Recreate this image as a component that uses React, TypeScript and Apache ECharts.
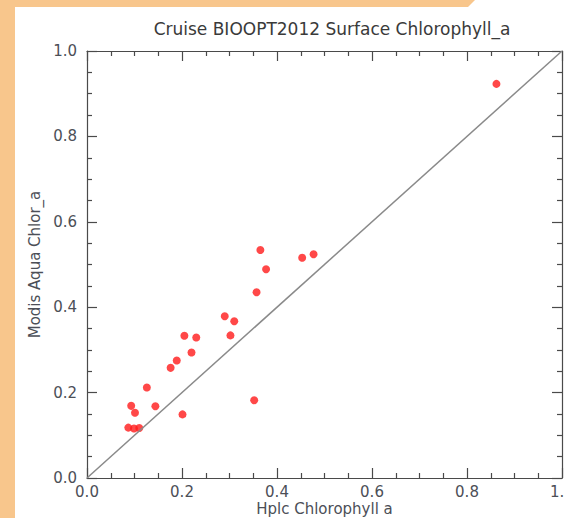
import React, { useEffect, useRef } from "react";
import * as echarts from "echarts";

const TITLE = "Cruise BIOOPT2012 Surface Chlorophyll_a";
const X_NAME = "Hplc Chlorophyll a";
const Y_NAME = "Modis Aqua Chlor_a";

const HPLC = [0.365, 0.453, 0.477, 0.377, 0.357, 0.29, 0.31, 0.302, 0.205, 0.23, 0.22, 0.189, 0.176, 0.126, 0.093, 0.101, 0.144, 0.201, 0.352, 0.087, 0.099, 0.11, 0.862];
const MODIS = [0.534, 0.516, 0.524, 0.489, 0.435, 0.379, 0.367, 0.334, 0.333, 0.329, 0.294, 0.275, 0.258, 0.212, 0.169, 0.153, 0.168, 0.149, 0.182, 0.118, 0.116, 0.117, 0.923];
const ONE_TO_ONE = [[0, 0], [1, 1]];

const FONT = "DejaVu Sans";
const AXIS_COLOR = "#4a4a4a";
const LABEL_COLOR = "#4c4f57";

export default function App() {
  const ref = useRef<HTMLDivElement>(null);
  useEffect(() => {
    if (!ref.current) return;
    const chart = echarts.init(ref.current, null, { renderer: "svg" });
    const axisCommon = {
      type: "value",
      min: 0,
      max: 1,
      interval: 0.2,
      axisLine: { show: true, onZero: false, lineStyle: { color: AXIS_COLOR, width: 1.2 } },
      axisTick: { show: true, inside: true, length: 10, lineStyle: { color: AXIS_COLOR, width: 1.2 } },
      minorTick: { show: true, splitNumber: 4, length: 5, lineStyle: { color: AXIS_COLOR, width: 1.2 } },
      splitLine: { show: false },
    };
    chart.setOption({
      animation: false,
      backgroundColor: "#fff",
      title: {
        text: TITLE,
        left: 327,
        top: 15,
        textAlign: "center",
        textStyle: { fontFamily: FONT, fontSize: 17, fontWeight: "normal", color: "#3a3a3a" },
      },
      graphic: [
        { type: "rect", shape: { x: 0, y: 0, width: 15, height: 518 }, style: { fill: "#F8C68C" } },
        { type: "polygon", shape: { points: [[0, 0], [475, 0], [468, 7], [0, 7]] }, style: { fill: "#F8C68C" } },
      ],
      grid: { left: 87, right: 2, top: 51, bottom: 40, containLabel: false, outerBoundsMode: "none" },
      xAxis: [
        {
          ...axisCommon,
          position: "bottom",
          name: X_NAME,
          nameLocation: "middle",
          nameGap: 23,
          nameMoveOverlap: false,
          nameTextStyle: { fontFamily: FONT, fontSize: 15, color: LABEL_COLOR, lineHeight: 16 },
          axisLabel: {
            margin: 6,
            fontFamily: FONT,
            fontSize: 15,
            color: LABEL_COLOR,
            formatter: (v: number) => v.toFixed(1),
          },
        },
        { ...axisCommon, position: "top", axisLabel: { show: false } },
      ],
      yAxis: [
        {
          ...axisCommon,
          position: "left",
          name: Y_NAME,
          nameLocation: "middle",
          nameGap: 45,
          nameMoveOverlap: false,
          nameTextStyle: { fontFamily: FONT, fontSize: 15, color: LABEL_COLOR },
          axisLabel: {
            margin: 10,
            fontFamily: FONT,
            fontSize: 15,
            color: LABEL_COLOR,
            formatter: (v: number) => v.toFixed(1),
          },
        },
        { ...axisCommon, position: "right", axisLabel: { show: false } },
      ],
      series: [
        {
          type: "line",
          data: ONE_TO_ONE,
          symbol: "none",
          lineStyle: { color: "#8a8a8a", width: 1.5 },
          silent: true,
        },
        {
          type: "scatter",
          data: HPLC.map((x, i) => [x, MODIS[i]]),
          symbolSize: 8,
          itemStyle: { color: "#ff1a1a" },
        },
      ],
    });
    return () => chart.dispose();
  }, []);
  return (
    <div
      ref={ref}
      style={{ position: "absolute", left: 0, top: 0, width: 564, height: 518 }}
    />
  );
}
